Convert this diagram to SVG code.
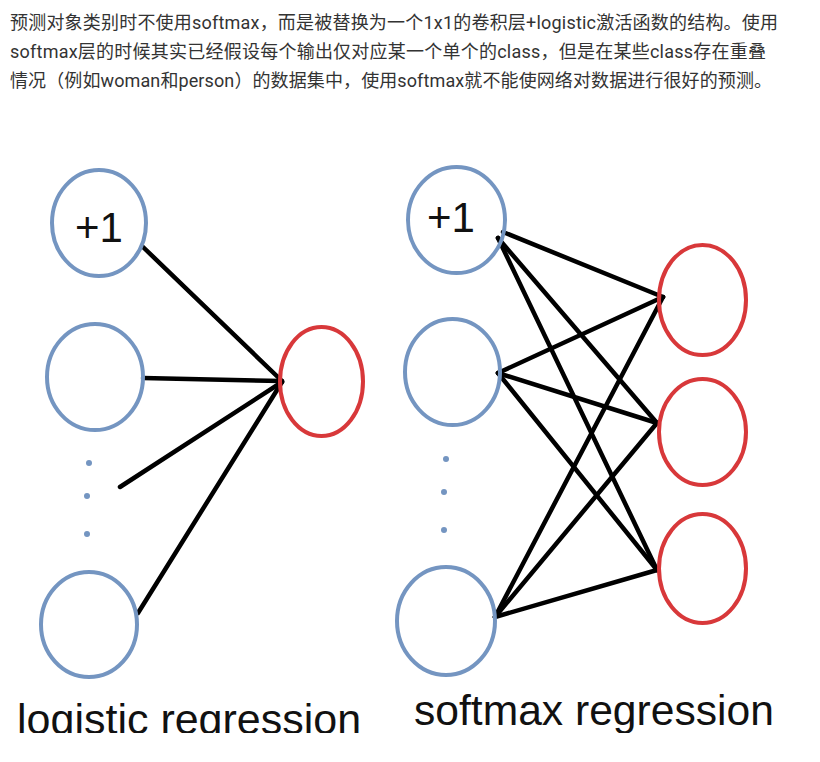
<svg xmlns="http://www.w3.org/2000/svg" width="820" height="762" viewBox="0 0 820 762">
<style>
.hdr{font-family:Roboto,"Noto Sans CJK SC",sans-serif;font-size:18px;fill:#333}
.in{fill:none;stroke:#7495C1;stroke-width:4}
.out{fill:none;stroke:#D8383A;stroke-width:4}
.dot{fill:#7495C1}
.lbl{font-family:"Liberation Sans",Arial,sans-serif;fill:#111}
.big{font-size:42px}
.edge{stroke:#000;stroke-width:4.5;stroke-linecap:round;fill:none}
</style>
<defs>
<clipPath id="clip"><rect x="0" y="140" width="820" height="593"/></clipPath>
</defs>
<rect width="820" height="762" fill="#fff"/>
<g id="header">
<text class="hdr" x="10" y="29" textLength="768" lengthAdjust="spacing">预测对象类别时不使用softmax，而是被替换为一个1x1的卷积层+logistic激活函数的结构。使用</text>
<text class="hdr" x="10" y="58" textLength="756" lengthAdjust="spacing">softmax层的时候其实已经假设每个输出仅对应某一个单个的class，但是在某些class存在重叠</text>
<text class="hdr" x="10" y="87" textLength="762" lengthAdjust="spacing">情况（例如woman和person）的数据集中，使用softmax就不能使网络对数据进行很好的预测。</text>
</g>
<g id="connectors">
<line class="edge" x1="143" y1="247" x2="282" y2="381"/>
<line class="edge" x1="143" y1="378" x2="282" y2="381"/>
<line class="edge" x1="120" y1="487" x2="282" y2="382"/>
<line class="edge" x1="138" y1="613" x2="282" y2="382"/>
<line class="edge" x1="503" y1="232" x2="663" y2="297"/>
<line class="edge" x1="498" y1="238" x2="657" y2="423"/>
<line class="edge" x1="498" y1="238" x2="657" y2="570"/>
<line class="edge" x1="498" y1="373" x2="663" y2="297"/>
<line class="edge" x1="498" y1="373" x2="657" y2="423"/>
<line class="edge" x1="498" y1="373" x2="657" y2="570"/>
<line class="edge" x1="495" y1="617" x2="663" y2="297"/>
<line class="edge" x1="495" y1="617" x2="657" y2="423"/>
<line class="edge" x1="495" y1="617" x2="657" y2="570"/>
</g>
<g id="lr-bias"><ellipse class="in" cx="99" cy="223" rx="47" ry="53"/><text class="lbl big" x="75" y="242">+1</text></g>
<g id="lr-x1"><ellipse class="in" cx="95" cy="377" rx="48" ry="53"/></g>
<g id="lr-dots"><circle class="dot" cx="89" cy="463" r="3"/><circle class="dot" cx="87" cy="496" r="3"/><circle class="dot" cx="87" cy="534" r="3"/></g>
<g id="lr-xn"><ellipse class="in" cx="89" cy="624.5" rx="48" ry="52.5"/></g>
<g id="lr-out"><ellipse class="out" cx="321.5" cy="381.5" rx="41.5" ry="54.5"/></g>
<g id="sm-bias"><ellipse class="in" cx="456.5" cy="220" rx="48.5" ry="53"/><text class="lbl big" x="427" y="232">+1</text></g>
<g id="sm-x1"><ellipse class="in" cx="452.5" cy="372" rx="47.5" ry="53"/></g>
<g id="sm-dots"><circle class="dot" cx="446" cy="459" r="3"/><circle class="dot" cx="444" cy="492" r="3"/><circle class="dot" cx="444" cy="530" r="3"/></g>
<g id="sm-xn"><ellipse class="in" cx="446" cy="621" rx="49" ry="54"/></g>
<g id="sm-out1"><ellipse class="out" cx="702.5" cy="300" rx="43.5" ry="55"/></g>
<g id="sm-out2"><ellipse class="out" cx="702.5" cy="432" rx="43.5" ry="53"/></g>
<g id="sm-out3"><ellipse class="out" cx="702.5" cy="568.5" rx="43.5" ry="54.5"/></g>
<g id="labels" clip-path="url(#clip)">
<text class="lbl" font-size="43" x="17" y="734">logistic regression</text>
<text class="lbl" font-size="42.6" x="414" y="725">softmax regression</text>
</g>
</svg>
